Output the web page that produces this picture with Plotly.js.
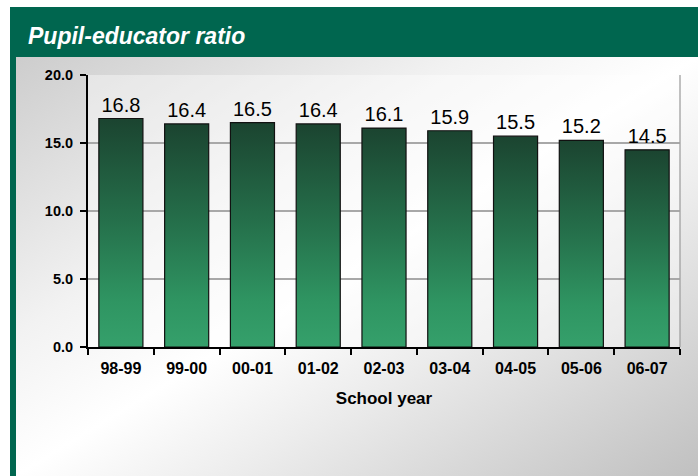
<!DOCTYPE html>
<html>
<head>
<meta charset="utf-8">
<script src="https://cdn.plot.ly/plotly-3.0.1.min.js"></script>
<style>
  html, body { margin: 0; padding: 0; background: #ffffff; }
  #wrap { position: relative; width: 698px; height: 476px; overflow: hidden; }
  #bg { position: absolute; left: 10px; top: 7px; width: 688px; height: 469px; background: #00664f; }
  #panel { position: absolute; left: 16px; top: 57px; width: 682px; height: 419px;
    background: linear-gradient(to bottom right, #cdcdcd 0%, #f2f2f2 33%, #ffffff 50%, #ececec 66%, #c0c0c0 100%); }
  #chart { position: absolute; left: 0; top: 0; width: 698px; height: 476px; }
</style>
</head>
<body>
<div id="wrap">
  <div id="bg"></div>
  <div id="panel"></div>
  <div id="chart"></div>
</div>
<script>
var schoolYears = ["98-99", "99-00", "00-01", "01-02", "02-03", "03-04", "04-05", "05-06", "06-07"];
var ratios = [16.8, 16.4, 16.5, 16.4, 16.1, 15.9, 15.5, 15.2, 14.5];
var yTicks = [0, 5, 10, 15, 20];
var chartTitle = "Pupil-educator ratio";
var xTitle = "School year";

var data = [{
  type: "bar",
  x: schoolYears,
  y: ratios,
  texttemplate: "%{y:.1f}",
  textposition: "outside",
  constraintext: "none",
  cliponaxis: false,
  textfont: { family: "Liberation Sans, Arial, sans-serif", size: 20, color: "#000000" },
  marker: { color: "#2a7a50", line: { color: "#111111", width: 1.2 } },
  hoverinfo: "none"
}];

var layout = {
  width: 698,
  height: 476,
  margin: { l: 88, r: 18, t: 75, b: 129 },
  paper_bgcolor: "rgba(0,0,0,0)",
  plot_bgcolor: "rgba(255,255,255,0.4)",
  bargap: 0.33,
  showlegend: false,
  font: { family: "Liberation Sans, Arial, sans-serif", color: "#000000" },
  title: {
    text: "<b><i>" + chartTitle + "</i></b>",
    xref: "container", x: 28 / 698, xanchor: "left",
    yref: "container", y: 1 - 36 / 476, yanchor: "middle",
    font: { family: "Liberation Sans, Arial, sans-serif", size: 23, color: "#ffffff" }
  },
  xaxis: {
    type: "category",
    tickson: "boundaries",
    ticks: "outside",
    ticklen: 6,
    tickwidth: 2,
    tickcolor: "#000000",
    showline: true,
    linecolor: "#000000",
    linewidth: 2,
    showgrid: false,
    tickfont: { size: 16, color: "#000000", family: "Liberation Sans, Arial, sans-serif", weight: "bold" },
    ticklabelstandoff: 6,
    title: { text: "<b>" + xTitle + "</b>", font: { size: 17, color: "#000000" }, standoff: 16 }
  },
  yaxis: {
    range: [0, 20],
    tickvals: yTicks,
    tickformat: ".1f",
    ticks: "outside",
    ticklen: 6,
    tickwidth: 2,
    tickcolor: "#000000",
    showline: true,
    linecolor: "#000000",
    linewidth: 2,
    showgrid: true,
    gridcolor: "#a8a8a8",
    gridwidth: 1.3,
    zeroline: false,
    ticklabelstandoff: 4,
    tickfont: { size: 14.5, color: "#000000", family: "Liberation Sans, Arial, sans-serif", weight: "bold" }
  },
  shapes: [
    { type: "line", xref: "paper", yref: "paper", x0: 1, x1: 1, y0: 0, y1: 1, line: { color: "#a0a0a0", width: 1.3 } }
  ]
};

var gd = document.getElementById("chart");
Plotly.newPlot(gd, data, layout, { staticPlot: true, displayModeBar: false }).then(function () {
  var ns = "http://www.w3.org/2000/svg";
  var svg = gd.querySelector("svg.main-svg");
  var defs = svg.querySelector("defs");
  if (!defs) { defs = document.createElementNS(ns, "defs"); svg.insertBefore(defs, svg.firstChild); }
  var lg = document.createElementNS(ns, "linearGradient");
  lg.setAttribute("id", "barGrad");
  lg.setAttribute("x1", "0"); lg.setAttribute("y1", "0");
  lg.setAttribute("x2", "0"); lg.setAttribute("y2", "1");
  [["0", "#1b4430"], ["0.45", "#25704b"], ["0.8", "#2f9562"], ["1", "#35a06b"]].forEach(function (s) {
    var st = document.createElementNS(ns, "stop");
    st.setAttribute("offset", s[0]);
    st.setAttribute("stop-color", s[1]);
    lg.appendChild(st);
  });
  defs.appendChild(lg);
  gd.querySelectorAll(".bars .point path").forEach(function (p) {
    p.style.fill = "url(#barGrad)";
  });
});
</script>
</body>
</html>
